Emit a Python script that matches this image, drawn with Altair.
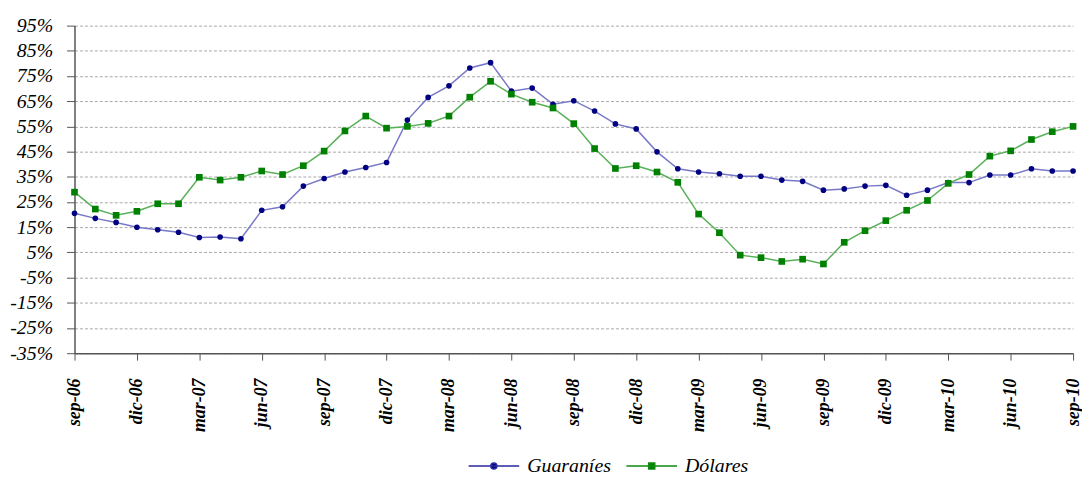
import altair as alt
import pandas as pd

months = [
    "sep-06", "oct-06", "nov-06", "dic-06", "ene-07", "feb-07", "mar-07", "abr-07", "may-07",
    "jun-07", "jul-07", "ago-07", "sep-07", "oct-07", "nov-07", "dic-07", "ene-08", "feb-08",
    "mar-08", "abr-08", "may-08", "jun-08", "jul-08", "ago-08", "sep-08", "oct-08", "nov-08",
    "dic-08", "ene-09", "feb-09", "mar-09", "abr-09", "may-09", "jun-09", "jul-09", "ago-09",
    "sep-09", "oct-09", "nov-09", "dic-09", "ene-10", "feb-10", "mar-10", "abr-10", "may-10",
    "jun-10", "jul-10", "ago-10", "sep-10",
]

guaranies = [
    20.5, 18.5, 16.9, 15.0, 14.0, 13.0, 10.9, 11.1, 10.4,
    21.7, 23.1, 31.3, 34.3, 36.9, 38.7, 40.7, 57.5, 66.5,
    71.1, 78.2, 80.3, 69.0, 70.2, 63.8, 65.2, 61.1, 56.0,
    54.0, 44.9, 38.2, 36.9, 36.2, 35.2, 35.2, 33.7, 33.2,
    29.7, 30.2, 31.3, 31.6, 27.7, 29.7, 32.7, 32.7, 35.7,
    35.7, 38.2, 37.3, 37.3,
]

dolares = [
    28.9, 22.2, 19.7, 21.3, 24.3, 24.3, 34.8, 33.7, 34.8,
    37.3, 35.9, 39.4, 45.2, 53.2, 59.1, 54.3, 55.0, 56.2,
    59.1, 66.6, 72.9, 67.8, 64.6, 62.3, 56.1, 46.2, 38.3,
    39.4, 36.9, 32.8, 20.2, 12.8, 3.9, 2.9, 1.4, 2.3,
    0.4, 9.0, 13.6, 17.6, 21.7, 25.6, 32.4, 35.9, 43.2,
    45.3, 49.8, 52.9, 55.0,
]

series = ["Guaraníes", "Dólares"]
tick_months = months[::3]
y_ticks = list(range(-35, 96, 10))

line_colors = ["#7878c8", "#58b058"]
marker_colors = ["#000080", "#008000"]
legend_line_colors = ["#2a2aa0", "#108a10"]
legend_paths = [
    "M-1,0H1M0.12,0A0.12,0.12,0,1,1,-0.12,0A0.12,0.12,0,1,1,0.12,0Z",
    "M-1,0H1M-0.12,-0.12H0.12V0.12H-0.12Z",
]

df = pd.DataFrame({
    "mes": months * 2,
    "valor": guaranies + dolares,
    "serie": [series[0]] * len(months) + [series[1]] * len(months),
})

FONT = "Liberation Serif"

x_enc = alt.X(
    "mes:O",
    sort=months,
    scale=alt.Scale(type="point", domain=months, padding=0),
    axis=alt.Axis(
        title=None, values=tick_months, labelAngle=270, labelFont=FONT,
        labelFontStyle="italic", labelFontWeight="bold", labelFontSize=18,
        labelColor="#000000", tickSize=7, tickColor="#555555", labelPadding=18,
        domainColor="#555555", domainWidth=1.5, grid=False, labelOverlap=False,
    ),
)
y_enc = alt.Y(
    "valor:Q",
    scale=alt.Scale(domain=[-35, 95], nice=False, zero=False),
    axis=alt.Axis(
        title=None, values=y_ticks, labelExpr="datum.value + '%'", labelFont=FONT,
        labelFontStyle="italic", labelFontSize=20, labelColor="#000000",
        tickSize=8, tickColor="#555555", labelPadding=14,
        domainColor="#555555", domainWidth=1.5, grid=True, gridDash=[3, 2],
        gridColor="#a8a8a8", gridWidth=1,
    ),
)

base = alt.Chart(df).encode(x=x_enc, y=y_enc)

lines = base.mark_line(strokeWidth=1.5).encode(
    color=alt.Color("serie:N", scale=alt.Scale(domain=series, range=line_colors), legend=None),
    detail="serie:N",
)

points = base.mark_point(filled=True, opacity=1).encode(
    color=alt.Color("serie:N", scale=alt.Scale(domain=series, range=marker_colors), legend=None),
    shape=alt.Shape("serie:N", scale=alt.Scale(domain=series, range=["circle", "square"]), legend=None),
    size=alt.Size("serie:N", scale=alt.Scale(domain=series, range=[32, 45]), legend=None),
)

leg = alt.Legend(
    title=None, orient="none", legendX=396, legendY=417, direction="horizontal",
    labelFont=FONT, labelFontStyle="italic", labelFontSize=20, labelColor="#000000",
    symbolSize=2600, symbolStrokeWidth=1.5, labelOffset=7, columnPadding=12,
)

legend_layer = base.transform_filter("datum.valor > 1000").mark_point(filled=True, opacity=1).encode(
    fill=alt.Fill("serie:N", scale=alt.Scale(domain=series, range=marker_colors), legend=leg),
    stroke=alt.Stroke("serie:N", scale=alt.Scale(domain=series, range=legend_line_colors), legend=leg),
    shape=alt.Shape("serie:N", scale=alt.Scale(domain=series, range=legend_paths), legend=leg),
)

chart = alt.layer(lines, points, legend_layer).resolve_scale(
    color="independent", shape="independent", size="independent",
    fill="independent", stroke="independent",
).properties(
    width=1006, height=330,
    padding={"left": 67, "top": 16, "right": 9, "bottom": 123},
    autosize=alt.AutoSizeParams(type="none"),
).configure_view(stroke=None)

chart.save("out.html", embed_options={"renderer": "svg", "actions": False})
